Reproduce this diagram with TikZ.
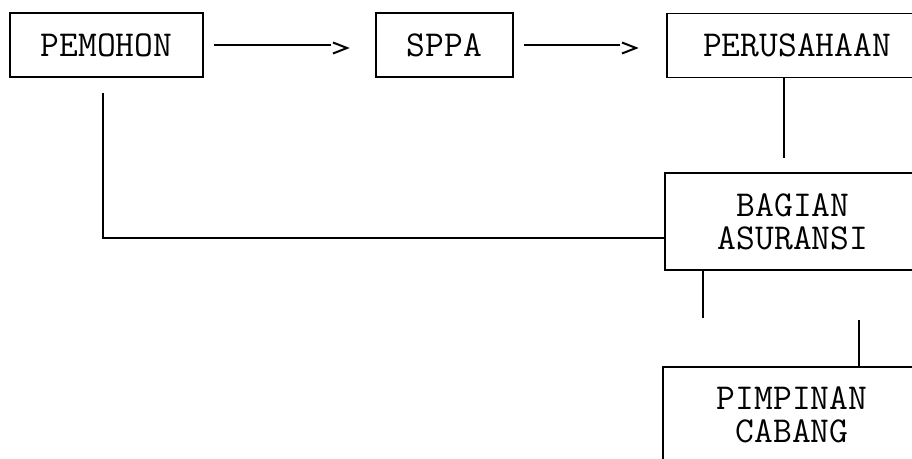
\documentclass[tikz,border=0pt]{standalone}
\usetikzlibrary{calc}
\begin{document}
\begin{tikzpicture}[x=1pt,y=-1pt,
  box/.style={draw, line width=1.6pt, inner sep=0pt, align=center,
    font=\fontsize{36.5}{33}\selectfont\ttfamily},
  conn/.style={line width=1.6pt},
  chev/.style={line width=2pt}]
\useasboundingbox (0,0) rectangle (912,458);
\clip (0,0) rectangle (912,458);
% boxes
\node[box, minimum width=193pt, minimum height=64pt] (pemohon) at (106.5,45) {PEMOHON};
\node[box, minimum width=137pt, minimum height=64pt] (sppa) at (444.5,45) {SPPA};
\node[box, minimum width=260pt, minimum height=64pt] (perusahaan) at (797,45.5) {PERUSAHAAN};
\node[box, minimum width=256pt, minimum height=97pt] (bagian) at (793,221.5) {BAGIAN\\ASURANSI};
\node[box, minimum width=258pt, minimum height=96pt] (pimpinan) at (792,415) {PIMPINAN\\CABANG};
% arrows with typewriter chevrons
\coordinate (a1e) at (331,45);
\draw[conn] ([xshift=10pt]pemohon.east) -- (a1e);
\draw[chev] ($(a1e)+(2,-2.5)$) -- ++(14,5.5) -- ++(-14,5.5);
\coordinate (a2e) at (620,45);
\draw[conn] ([xshift=10pt]sppa.east) -- (a2e);
\draw[chev] ($(a2e)+(2,-2.5)$) -- ++(14,5.5) -- ++(-14,5.5);
% perusahaan down
\coordinate (p1) at (784,158);
\draw[conn] (perusahaan.south -| p1) -- (p1);
% pemohon to bagian
\coordinate (q1) at (103,93);
\coordinate (q2) at (664,238);
\draw[conn] (q1) |- (bagian.west |- q2);
% bagian down
\coordinate (b1) at (703,318);
\draw[conn] (bagian.south -| b1) -- (b1);
% up from pimpinan
\coordinate (r1) at (859,320);
\draw[conn] (r1) -- (pimpinan.north -| r1);
\end{tikzpicture}
\end{document}
